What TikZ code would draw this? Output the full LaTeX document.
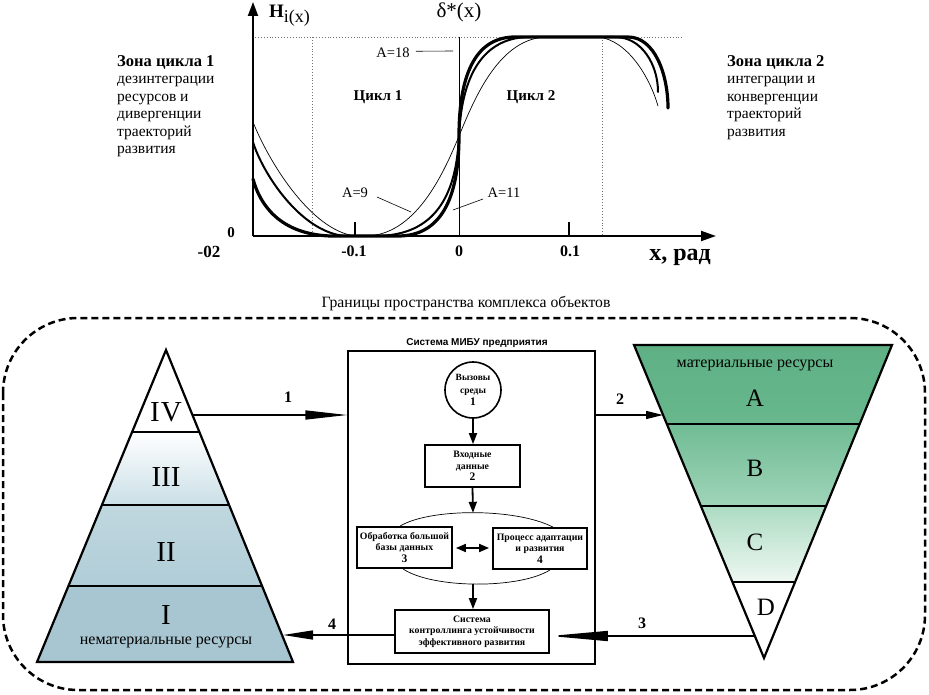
\documentclass[tikz,border=0pt]{standalone}
\usepackage{fontspec}
\setmainfont{Liberation Serif}
\setsansfont{Liberation Sans}
\usetikzlibrary{arrows.meta}
\definecolor{pyI}{RGB}{168,198,209}
\definecolor{pyIIt}{RGB}{192,215,223}
\definecolor{pyIIb}{RGB}{176,205,215}
\definecolor{pyIIIb}{RGB}{202,223,230}
\definecolor{gAt}{RGB}{94,176,132}
\definecolor{gAb}{RGB}{104,183,141}
\definecolor{gBt}{RGB}{112,188,148}
\definecolor{gBb}{RGB}{160,212,185}
\definecolor{gCt}{RGB}{172,219,194}
\definecolor{gCb}{RGB}{238,248,242}
\begin{document}
\begin{tikzpicture}[x=1pt,y=-1pt,
  ax/.style={line width=2pt},
  crvA/.style={line width=3.2pt, line cap=round},
  crvB/.style={line width=2pt, line cap=round},
  crvC/.style={line width=0.7pt},
  dots/.style={dotted, line width=0.9pt, black!55},
  lead/.style={line width=0.6pt},
  side/.style={font=\fontsize{15.5}{17.5}\selectfont, anchor=north west, align=left, inner sep=0pt},
  ticklab/.style={font=\bfseries\fontsize{16}{18}\selectfont, inner sep=0pt},
  alab/.style={font=\fontsize{14.5}{16}\selectfont, inner sep=0pt},
  cyc/.style={font=\bfseries\fontsize{15}{17}\selectfont, inner sep=0pt},
  tri/.style={line width=2.2pt, line join=miter},
  divl/.style={line width=1.6pt},
  roman/.style={font=\fontsize{29}{30}\selectfont, inner sep=0pt},
  letter/.style={font=\fontsize{25}{27}\selectfont, inner sep=0pt},
  reslab/.style={font=\fontsize{16}{18}\selectfont, inner sep=0pt},
  numlab/.style={font=\bfseries\fontsize{16}{18}\selectfont, inner sep=0pt},
  conn/.style={line width=1.5pt},
  ibox/.style={draw, line width=1.8pt, inner sep=1pt, align=center, font=\bfseries\fontsize{9.8}{11.5}\selectfont},
  iarr/.style={line width=1.8pt, -{Triangle[length=11pt,width=8pt]}},
]
\useasboundingbox (0,0) rectangle (929,695);

% ---------------- chart ----------------
\coordinate (O) at (253,236);
\coordinate (ytip) at (253,2);
\coordinate (xtip) at (716,236);
\draw[dots] (255,37) -- (683,37);
\draw[dots] (312,37) -- (312,236);
\draw[dots] (602,37) -- (602,236);
\draw[line width=0.9pt] (459,37) -- (459,236);
\draw[ax] (355,222) -- (355,236);
\draw[ax] (569,222) -- (569,236);

% curves
\draw[crvC] (253,122) .. controls (268,160) and (310,230) .. (355,236) -- (365,236)
  .. controls (415,236) and (443,175) .. (459,136)
  .. controls (475,97) and (500,37) .. (548,37) -- (598,37)
  .. controls (628,40) and (650,78) .. (658,106);
\draw[crvB] (253,142) .. controls (262,172) and (300,232) .. (345,236) -- (375,236)
  .. controls (428,236) and (456,205) .. (459,136)
  .. controls (462,68) and (488,37) .. (530,37) -- (615,37)
  .. controls (642,37) and (658,65) .. (658,92);
\draw[crvA] (253,179) .. controls (260,205) and (280,234) .. (330,236) -- (398,236)
  .. controls (440,236) and (459,200) .. (459,136)
  .. controls (459,70) and (478,37) .. (515,37) -- (628,37)
  .. controls (655,37) and (668,75) .. (668,108);

\draw[ax,-{Triangle[length=14pt,width=10pt]}] (O) -- (ytip);
\draw[ax,-{Triangle[length=15pt,width=10pt]}] (O) -- (xtip);

\node[anchor=base west, inner sep=0pt] (hlab) at (269,18)
  {\fontsize{19}{20}\selectfont\textbf{H}\raisebox{-5pt}{\fontsize{18}{20}\selectfont i(x)}};
\node[anchor=base, inner sep=0pt, font=\fontsize{21}{22}\selectfont] (dlab) at (459,18) {δ*(x)};
\node[anchor=base, font=\bfseries\fontsize{24}{26}\selectfont, inner sep=0pt] (xlab) at (680,261) {x, рад};
\node[ticklab, anchor=base] (t1) at (354,257) {-0.1};
\node[ticklab, anchor=base] (t2) at (459,257) {0};
\node[ticklab, anchor=base] (t3) at (570,257) {0.1};
\node[ticklab, anchor=base, font=\bfseries\fontsize{15}{17}\selectfont] (t0) at (231,238) {0};
\node[ticklab, anchor=base, font=\bfseries\fontsize{17}{18}\selectfont] (tm) at (209,258) {-02};
\node[cyc] (c1lab) at (378,97) {Цикл 1};
\node[cyc] (c2lab) at (531,97) {Цикл 2};
\node[alab, anchor=base] (a18) at (393,58) {A=18};
\node[alab, anchor=base] (a9) at (355,198) {A=9};
\node[alab, anchor=base] (a11) at (504,198) {A=11};
\draw[lead] (a18.east) ++(6,-2) -- (453,51);
\draw[lead] (377,197) -- (411,212);
\draw[lead] (483,199) -- (453,210);

\node[side] (z1) at (117,55) {{\fontsize{16.5}{17.5}\selectfont\textbf{Зона цикла 1}}\\дезинтеграции\\ресурсов и\\дивергенции\\траекторий\\развития};
\node[side] (z2) at (727,55) {{\fontsize{16.5}{17.5}\selectfont\textbf{Зона цикла 2}}\\интеграции и\\конвергенции\\траекторий\\развития};

% ---------------- lower scheme ----------------
\node[anchor=base, inner sep=0pt, font=\fontsize{15.7}{17}\selectfont] (title) at (466,307) {Границы пространства комплекса объектов};
\draw[line width=2.5pt, dash pattern=on 7pt off 4pt, rounded corners=75pt] (3,318) rectangle (925,690);

% pyramid
\begin{scope}
\clip (166,350) -- (37,662) -- (293,662) -- cycle;
\fill[white] (30,340) rectangle (300,432);
\shade[top color=white, bottom color=pyIIIb] (30,432) rectangle (300,505);
\shade[top color=pyIIt, bottom color=pyIIb] (30,505) rectangle (300,586);
\fill[pyI] (30,586) rectangle (300,670);
\end{scope}
\draw[divl] (132.2,432) -- (199.8,432);
\draw[divl] (102,505) -- (230,505);
\draw[divl] (69,586) -- (263,586);
\draw[tri] (166,350) -- (37,662) -- (293,662) -- cycle;
\node[roman] (r4) at (166,412) {I\kern1pt V};
\node[roman] (r3) at (166,477) {III};
\node[roman] (r2) at (166,552) {II};
\node[roman] (r1) at (166,615) {I};
\node[reslab] (nres) at (166,642) {нематериальные ресурсы};

% inverted triangle
\begin{scope}
\clip (634,345) -- (892,345) -- (764,658) -- cycle;
\shade[top color=gAt, bottom color=gAb] (620,340) rectangle (900,424);
\shade[top color=gBt, bottom color=gBb] (620,424) rectangle (900,506);
\shade[top color=gCt, bottom color=gCb] (620,506) rectangle (900,582);
\fill[white] (620,582) rectangle (900,665);
\end{scope}
\draw[divl] (666.8,424) -- (859.4,424);
\draw[divl] (700.9,506) -- (825.7,506);
\draw[divl] (732.4,582) -- (794,582);
\draw[tri] (634,345) -- (892,345) -- (764,658) -- cycle;
\node[reslab] (mres) at (755,365) {материальные ресурсы};
\node[letter] (lA) at (755,398) {A};
\node[letter] (lB) at (755,468) {B};
\node[letter] (lC) at (755,542) {C};
\node[letter] (lD) at (766,607) {D};

% system box
\node[draw, line width=1.4pt, minimum width=247pt, minimum height=313pt, inner sep=0pt] (sys) at (471.5,507.5) {};
\node[inner sep=0pt, font=\sffamily\bfseries\fontsize{10}{12}\selectfont] (stitle) at (477,343) {Система МИБУ предприятия};
\node[circle, draw, line width=1.6pt, minimum size=56pt, inner sep=0pt, align=center,
  font=\bfseries\fontsize{9.5}{12.5}\selectfont] (c1) at (473,390) {Вызовы\\среды\\{\fontsize{11.5}{12}\selectfont 1}};
\node[ibox, minimum width=95pt, minimum height=42pt] (b2) at (472.5,466) {Входные\\данные\\{\fontsize{11.5}{12}\selectfont 2}};
\node[ibox, minimum width=95pt, minimum height=41pt] (b3) at (404.5,547.5) {Обработка большой\\базы данных\\{\fontsize{11.5}{12}\selectfont 3}};
\node[ibox, minimum width=94pt, minimum height=41pt] (b4) at (540,548.5) {Процесс адаптации\\и развития\\{\fontsize{11.5}{12}\selectfont 4}};
\node[ibox, minimum width=154pt, minimum height=43pt] (b5) at (472,631.5) {Система\\контроллинга устойчивости\\эффективного развития};

\coordinate (lt) at (473,512.8);
\coordinate (lb) at (473,584);
\draw[line width=0.7pt] (b3.north -| 400,0) .. controls (430,508) and (516,508) .. (b4.north -| 553,0);
\draw[line width=0.7pt] (b3.south -| 403,0) .. controls (433,589) and (520,589) .. (b4.south -| 550,0);

\draw[iarr] (c1.south) -- (c1.south |- b2.north);
\draw[iarr] (b2.south) -- (lt);
\draw[iarr] (lb) -- (lb |- b5.north);
\draw[line width=1.8pt, {Triangle[length=10pt,width=8pt]}-{Triangle[length=10pt,width=8pt]}, shorten <=3pt, shorten >=3pt] (b3.east |- 0,548) -- (b4.west |- 0,548);

% connectors between parts
\coordinate (a1s) at (193,415);
\coordinate (a2e) at (663,415);
\coordinate (a3s) at (755,636);
\coordinate (a4e) at (283,635);
\draw[conn, -{Triangle[length=42pt,width=9pt]}] (a1s) -- (a1s -| sys.west);
\draw[conn, -{Triangle[length=17pt,width=8pt]}] (sys.east |- a2e) -- (a2e);
\draw[conn, -{Triangle[length=58pt,width=10pt]}] (a3s) -- (a3s -| b5.east);
\draw[conn, -{Triangle[length=30pt,width=9pt]}] (b5.west |- a4e) -- (a4e);
\node[numlab] (n1) at (288,397) {1};
\node[numlab] (n2) at (620,399) {2};
\node[numlab] (n3) at (642,623) {3};
\node[numlab] (n4) at (332,624) {4};
\end{tikzpicture}
\end{document}
